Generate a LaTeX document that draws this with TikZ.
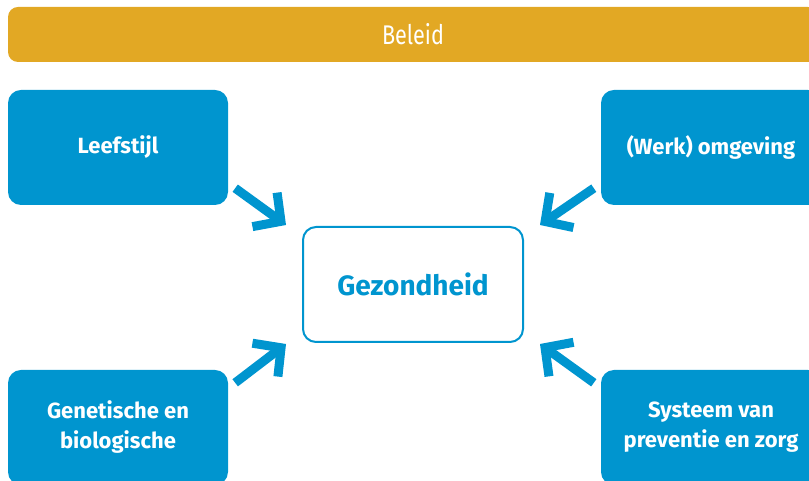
\documentclass[tikz,border=0pt]{standalone}
\usepackage{fontspec}
\setmainfont{Fira Sans}
\newfontfamily\lightfont{Fira Sans}[FakeStretch=0.8]
\usepackage{tikz}
\usetikzlibrary{calc}
\usetikzlibrary{arrows.meta}
\usetikzlibrary{positioning}

\definecolor{gezblue}{RGB}{0,149,207}
\definecolor{beleidgold}{RGB}{226,168,36}

\begin{document}
\begin{tikzpicture}[x=1pt,y=1pt]
% 1 px = 1pt, origin bottom left
    \def\BOXW{220pt}
    \def\BOXH{115pt}
    \def\XLEFT{118}
    \def\XRIGHT{711}
    \def\YTOP{333.5}
    \def\YBOTTOM{53.5}

    \tikzset{
      factor/.style={fill=gezblue, rounded corners=13pt,
        minimum width=\BOXW, minimum height=\BOXH, align=center,
        text=white, font=\bfseries\fontsize{22}{30}\selectfont},
      centre/.style={draw=gezblue, line width=2pt, fill=white,
        rounded corners=13pt, minimum width=\BOXW, minimum height=\BOXH,
        text=gezblue, font=\bfseries\fontsize{28}{32}\selectfont},
      influence/.style={-{Straight Barb[length=20pt,width=42pt,sharp]},
        line width=9pt, color=gezblue},
    }

    \useasboundingbox (0,0) rectangle (809,481);
    \clip (0,0) rectangle (809,481);

    % BELEID BAR
    \node[fill=beleidgold, rounded corners=10pt, minimum width=810pt,
          minimum height=55pt, text=white,
          font=\lightfont\fontsize{27}{30}\selectfont]
        (beleid) at (413,446.5) {Beleid};

    % CENTRE
    \node[centre] (gez) at (413,196.5) {Gezondheid};

    % FOUR FACTORS
    \node[factor] (lee) at (\XLEFT,\YTOP) {Leefstijl};
    \node[factor] (omg) at (\XRIGHT,\YTOP) {(Werk) omgeving};
    \node[factor] (gen) at (\XLEFT,\YBOTTOM) {Genetische en\\biologische};
    \node[factor] (sys) at (\XRIGHT,\YBOTTOM) {Systeem van\\preventie en zorg};

    % ARROW ENDS
    \coordinate (leeout) at ([shift={(7pt,17pt)}]lee.south east);
    \coordinate (omgout) at ([shift={(-7pt,17pt)}]omg.south west);
    \coordinate (genout) at ([shift={(7pt,-13pt)}]gen.north east);
    \coordinate (sysout) at ([shift={(-7pt,-13pt)}]sys.north west);
    \coordinate (gezinnw) at ([shift={(-16pt,1pt)}]gez.north west);
    \coordinate (gezinne) at ([shift={(16pt,1pt)}]gez.north east);
    \coordinate (gezinsw) at ([shift={(-16pt,-1pt)}]gez.south west);
    \coordinate (gezinse) at ([shift={(16pt,-1pt)}]gez.south east);

    % ARROWS
    \draw[influence] (leeout) -- (gezinnw);
    \draw[influence] (omgout) -- (gezinne);
    \draw[influence] (genout) -- (gezinsw);
    \draw[influence] (sysout) -- (gezinse);

\end{tikzpicture}
\end{document}
